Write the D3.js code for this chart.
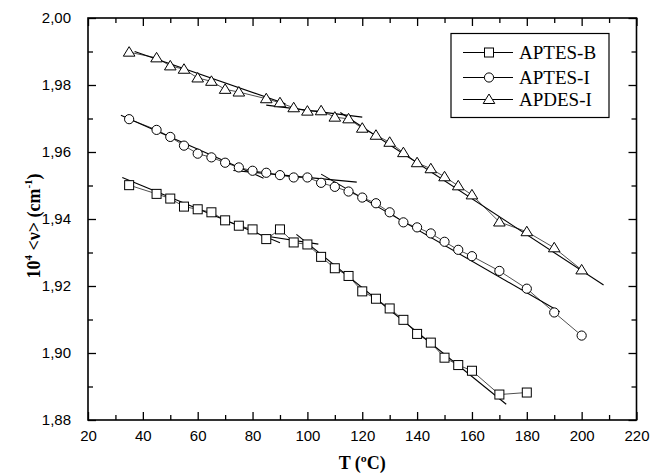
<!DOCTYPE html>
<html>
<head>
<meta charset="utf-8">
<script src="https://cdn.jsdelivr.net/npm/d3@7"></script>
<style>
  body { margin: 0; background: #fff; }
  svg { display: block; }
</style>
</head>
<body>
<div id="chart"></div>
<script>
// series names
const seriesNames = ['APTES-B', 'APTES-I', 'APDES-I'];

// APTES-B (squares)
const tempsB = [35, 45, 50, 55, 60, 65, 70, 75, 80, 85, 90, 95, 100, 105, 110, 115, 120, 125, 130, 135, 140, 145, 150, 155, 160, 170, 180];
const valuesB = [1.9501, 1.9475, 1.9461, 1.9437, 1.9429, 1.9420, 1.9396, 1.9380, 1.9369, 1.9340, 1.9369, 1.9330, 1.9324, 1.9287, 1.9253, 1.9230, 1.9184, 1.9162, 1.9133, 1.9099, 1.9057, 1.9031, 1.8986, 1.8964, 1.8947, 1.8876, 1.8882];

// APTES-I (circles)
const tempsI = [35, 45, 50, 55, 60, 65, 70, 75, 80, 85, 90, 95, 100, 105, 110, 115, 120, 125, 130, 135, 140, 145, 150, 155, 160, 170, 180, 190, 200];
const valuesI = [1.9698, 1.9666, 1.9645, 1.9619, 1.9595, 1.9584, 1.9568, 1.9554, 1.9544, 1.9538, 1.9531, 1.9524, 1.9524, 1.9508, 1.9496, 1.9482, 1.9464, 1.9447, 1.9420, 1.9390, 1.9375, 1.9357, 1.9332, 1.9308, 1.9289, 1.9245, 1.9192, 1.9121, 1.9052];

// APDES-I (triangles)
const tempsD = [35, 45, 50, 55, 60, 65, 70, 75, 85, 90, 95, 100, 105, 110, 115, 120, 125, 130, 135, 140, 145, 150, 155, 160, 170, 180, 190, 200];
const valuesD = [1.9898, 1.9881, 1.9857, 1.9847, 1.9821, 1.9811, 1.9787, 1.9779, 1.9759, 1.9747, 1.9732, 1.9722, 1.9723, 1.9704, 1.9699, 1.9671, 1.9650, 1.9629, 1.9598, 1.9568, 1.9550, 1.9526, 1.9499, 1.9472, 1.9391, 1.9362, 1.9314, 1.9248];

// linear fit segments [[T0, v0], [T1, v1]]
const fitsB = [[[32.5, 1.9524], [90, 1.9329]], [[84, 1.9350], [104, 1.9325]], [[96, 1.9354], [172.5, 1.8847]]];
const fitsI = [[[32, 1.9710], [84, 1.9522]], [[73, 1.9545], [118, 1.9510]], [[105, 1.9534], [192, 1.9123]]];
const fitsD = [[[37, 1.9900], [92, 1.9744]], [[85, 1.9740], [120, 1.9704]], [[112, 1.9718], [208, 1.9203]]];

// axis ticks
const xTicks = [20, 40, 60, 80, 100, 120, 140, 160, 180, 200, 220];
const xMinor = [30, 50, 70, 90, 110, 130, 150, 170, 190, 210];
const yTicks = [1.88, 1.90, 1.92, 1.94, 1.96, 1.98, 2.00];
const yMinor = [1.89, 1.91, 1.93, 1.95, 1.97, 1.99];

const W = 663, H = 476;
const margin = { top: 18, right: 26.5, bottom: 56, left: 88 };
const width = W - margin.left - margin.right;
const height = H - margin.top - margin.bottom;

const svg = d3.select('#chart').append('svg')
    .attr('width', W)
    .attr('height', H);

const g = svg.append('g')
    .attr('transform', 'translate(' + margin.left + ',' + margin.top + ')');

const x = d3.scaleLinear().domain([20, 220]).range([0, width]);
const y = d3.scaleLinear().domain([1.88, 2.00]).range([height, 0]);

const tickFont = '"Liberation Sans", Arial, sans-serif';
const titleFont = '"Liberation Serif", "Times New Roman", serif';

function styleAxis(sel) {
    sel.select('.domain').remove();
    sel.selectAll('line').attr('stroke', '#000').attr('stroke-width', 1.3);
    sel.selectAll('text').attr('font-family', tickFont).attr('font-size', 15).attr('fill', '#000');
}

// bottom axis with labels, ticks inward
g.append('g')
    .attr('transform', 'translate(0,' + height + ')')
    .call(d3.axisBottom(x).tickValues(xTicks).tickSize(-8).tickPadding(10).tickFormat(d3.format('d')))
    .call(styleAxis);
g.append('g')
    .attr('transform', 'translate(0,' + height + ')')
    .call(d3.axisBottom(x).tickValues(xMinor).tickSize(-5).tickFormat(''))
    .call(styleAxis);

// top axis
g.append('g')
    .call(d3.axisTop(x).tickValues(xTicks).tickSize(-8).tickFormat(''))
    .call(styleAxis);
g.append('g')
    .call(d3.axisTop(x).tickValues(xMinor).tickSize(-5).tickFormat(''))
    .call(styleAxis);

// left axis with labels
const commaFmt = (d) => d3.format('.2f')(d).replace('.', ',');
g.append('g')
    .call(d3.axisLeft(y).tickValues(yTicks).tickSize(-8).tickPadding(17).tickFormat(commaFmt))
    .call(styleAxis);
g.append('g')
    .call(d3.axisLeft(y).tickValues(yMinor).tickSize(-5).tickFormat(''))
    .call(styleAxis);

// right axis
g.append('g')
    .attr('transform', 'translate(' + width + ',0)')
    .call(d3.axisRight(y).tickValues(yTicks).tickSize(-8).tickFormat(''))
    .call(styleAxis);
g.append('g')
    .attr('transform', 'translate(' + width + ',0)')
    .call(d3.axisRight(y).tickValues(yMinor).tickSize(-5).tickFormat(''))
    .call(styleAxis);

// frame
g.append('rect')
    .attr('width', width)
    .attr('height', height)
    .attr('fill', 'none')
    .attr('stroke', '#000')
    .attr('stroke-width', 1.6);

// axis titles
svg.append('text')
    .attr('x', margin.left + width / 2)
    .attr('y', 469)
    .attr('text-anchor', 'middle')
    .attr('font-family', titleFont)
    .attr('font-weight', 'bold')
    .attr('font-size', 18)
    .text('T (ºC)');

const yTitle = svg.append('text')
    .attr('transform', 'translate(40,226) rotate(-90)')
    .attr('text-anchor', 'middle')
    .attr('font-family', titleFont)
    .attr('font-weight', 'bold')
    .attr('font-size', 18);
yTitle.append('tspan').text('10');
yTitle.append('tspan').attr('font-size', 11).attr('dy', -8).text('4');
yTitle.append('tspan').attr('dy', 8).text(' <ν> (cm');
yTitle.append('tspan').attr('font-size', 11).attr('dy', -8).text('-1');
yTitle.append('tspan').attr('dy', 8).text(')');

// marker shapes
const markers = {
    square: (s) => s.append('rect').attr('x', -4.5).attr('y', -4.5).attr('width', 9).attr('height', 9),
    circle: (s) => s.append('circle').attr('r', 4.6),
    triangle: (s) => s.append('path').attr('d', 'M0,-5.5L5.8,4L-5.8,4Z')
};

const series = [
    { name: seriesNames[0], temps: tempsB, values: valuesB, fits: fitsB, marker: 'square' },
    { name: seriesNames[1], temps: tempsI, values: valuesI, fits: fitsI, marker: 'circle' },
    { name: seriesNames[2], temps: tempsD, values: valuesD, fits: fitsD, marker: 'triangle' }
];

const line = d3.line().x((d) => x(d[0])).y((d) => y(d[1]));

series.forEach((s) => {
    const pts = s.temps.map((t, i) => [t, s.values[i]]);

    // connecting line between points
    g.append('path')
        .datum(pts)
        .attr('d', line)
        .attr('fill', 'none')
        .attr('stroke', '#222')
        .attr('stroke-width', 0.8);

    // fit segments
    g.selectAll(null)
        .data(s.fits)
        .enter().append('path')
        .attr('d', line)
        .attr('fill', 'none')
        .attr('stroke', '#000')
        .attr('stroke-width', 1.1);

    // markers
    const m = g.selectAll(null)
        .data(pts)
        .enter().append('g')
        .attr('transform', (d) => 'translate(' + x(d[0]) + ',' + y(d[1]) + ')');
    markers[s.marker](m)
        .attr('fill', '#fff')
        .attr('stroke', '#000')
        .attr('stroke-width', 1);
});

// legend
const legend = svg.append('g').attr('transform', 'translate(451,33.5)');
legend.append('rect')
    .attr('width', 158)
    .attr('height', 84)
    .attr('fill', '#fff')
    .attr('stroke', '#000')
    .attr('stroke-width', 1.2);

const rows = [19, 44, 66];
series.forEach((s, i) => {
    const row = legend.append('g').attr('transform', 'translate(0,' + rows[i] + ')');
    row.append('line')
        .attr('x1', 12).attr('x2', 62)
        .attr('stroke', '#000').attr('stroke-width', 1);
    const mk = row.append('g').attr('transform', 'translate(38,0)');
    markers[s.marker](mk).attr('fill', '#fff').attr('stroke', '#000').attr('stroke-width', 1);
    row.append('text')
        .attr('x', 68)
        .attr('y', 6.5)
        .attr('font-family', titleFont)
        .attr('font-size', 19)
        .text(s.name);
});
</script>
</body>
</html>
